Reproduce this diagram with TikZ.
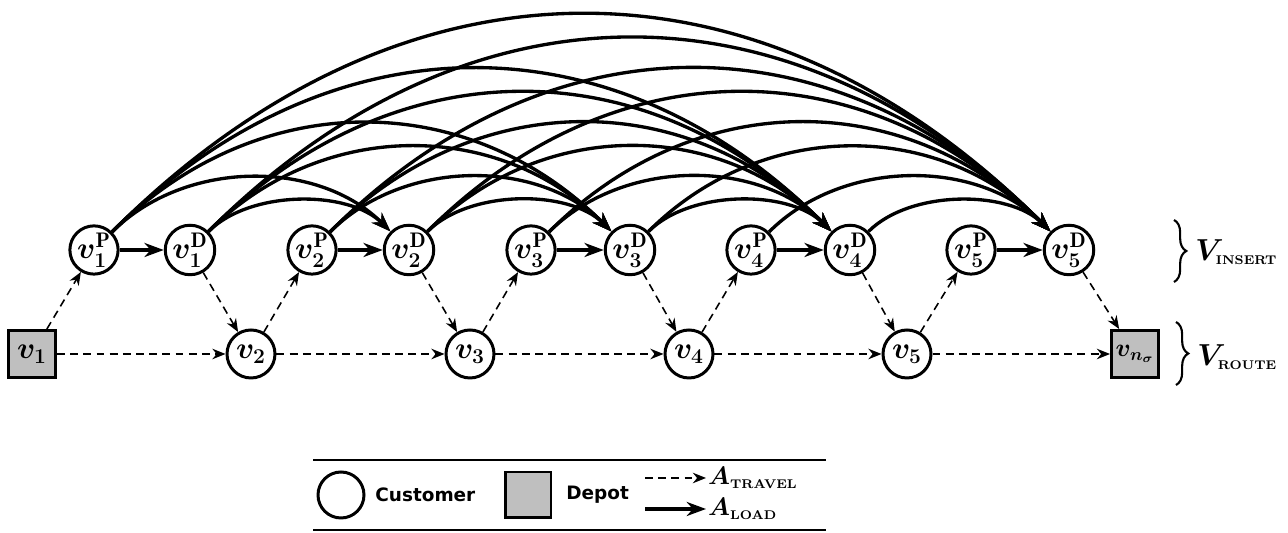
\documentclass[tikz,border=0pt]{standalone}
\usepackage{fontspec}
\usepackage{amsmath}
\newfontfamily\legendfont{DejaVu Sans}
\usetikzlibrary{arrows.meta,decorations.pathreplacing}

\tikzset{
    customer/.style={circle, draw, line width=1.7pt, minimum size=0.96cm, inner sep=0pt, font=\boldmath},
    depot/.style={rectangle, draw, line width=1.7pt, fill=gray!50, minimum size=0.94cm, inner sep=0pt, font=\boldmath},
    travel/.style={-{Stealth[length=7.5pt,width=6pt]}, line width=0.9pt, dash pattern=on 4.5pt off 3pt},
    loadarc/.style={-{Stealth[length=11pt,width=8pt]}, line width=1.9pt},
    legendtxt/.style={right, inner sep=0pt, font=\legendfont\bfseries\fontsize{10.5}{12}\selectfont},
    setlabel/.style={right, inner sep=0pt, font=\boldmath},
}
\newcommand{\setname}[1]{\text{\fontsize{7.2}{8}\selectfont\bfseries #1}}

\begin{document}
\begin{tikzpicture}[x=0.02cm, y=0.02cm]
        \useasboundingbox (0,0) rectangle (1288,533);

        % Route nodes (depots and customers)
        \node[depot] (v1) at (32,179) {\LARGE$v_1$};
        \node[customer] (v2) at (251,179) {\LARGE$v_2$};
        \node[customer] (v3) at (470,179) {\LARGE$v_3$};
        \node[customer] (v4) at (689,179) {\LARGE$v_4$};
        \node[customer] (v5) at (907,179) {\LARGE$v_5$};
        \node[depot] (vn) at (1135,179) {\Large$v_{n_\sigma}$};

        % Insert nodes - pickup and delivery of every request
        \node[customer] (p1) at (94,283) {\LARGE$v_1^{\mathrm{P}}$};
        \node[customer] (d1) at (190,283) {\LARGE$v_1^{\mathrm{D}}$};
        \node[customer] (p2) at (312,283) {\LARGE$v_2^{\mathrm{P}}$};
        \node[customer] (d2) at (409,283) {\LARGE$v_2^{\mathrm{D}}$};
        \node[customer] (p3) at (531,283) {\LARGE$v_3^{\mathrm{P}}$};
        \node[customer] (d3) at (630,283) {\LARGE$v_3^{\mathrm{D}}$};
        \node[customer] (p4) at (751,283) {\LARGE$v_4^{\mathrm{P}}$};
        \node[customer] (d4) at (850,283) {\LARGE$v_4^{\mathrm{D}}$};
        \node[customer] (p5) at (971,283) {\LARGE$v_5^{\mathrm{P}}$};
        \node[customer] (d5) at (1069,283) {\LARGE$v_5^{\mathrm{D}}$};

        % Travel arcs (dashed) and load arcs P -> D
        \foreach \i/\j in {1/2,2/3,3/4,4/5,5/n}{
            \draw[travel] (v\i) -- (p\i);
            \draw[travel] (v\i) -- (v\j);
            \draw[travel] (d\i) -- (v\j);
            \draw[loadarc] (p\i) -- (d\i);
        }

        % Load arcs to every later delivery, height about d/4
        \foreach \i in {1,...,4}{
            \pgfmathtruncatemacro{\k}{\i+1}
            \foreach \j in {\k,...,5}{
                \foreach \t/\o in {p/97,d/0}{
                    \pgfmathsetmacro{\loose}{(0.25*((\j-\i)*219.5+\o)-17)/(0.2076*((\j-\i)*219.5+\o))}
                    \draw[loadarc] (\t\i) to[out=45, in=135, looseness=\loose] (d\j);
                }
            }
        }

        % Braces for the two node sets
        \draw[line width=1.2pt, decorate, decoration={brace, amplitude=7pt}] (1174,313) -- (1174,251);
        \node[setlabel] (vinsert) at (1195,281) {\LARGE$V_{\setname{INSERT}}$};
        \draw[line width=1.2pt, decorate, decoration={brace, amplitude=7pt}] (1176,211) -- (1176,148);
        \node[setlabel] (vroute) at (1197,176) {\LARGE$V_{\setname{ROUTE}}$};

        % Legend
        \draw[line width=0.8pt] (313,73) -- (826,73);
        \draw[line width=0.8pt] (313,3) -- (826,3);
        \node[customer, minimum size=0.92cm] (legcust) at (341,38) {};
        \node[legendtxt] (custtxt) at (375,38) {Customer};
        \node[depot, minimum size=0.92cm] (legdepot) at (528,38) {};
        \node[legendtxt] (depottxt) at (566,38) {Depot};
        \node[setlabel, inner sep=1pt] (atravel) at (706,55) {\Large$A_{\setname{TRAVEL}}$};
        \node[setlabel, inner sep=1pt] (aload) at (706,24) {\Large$A_{\setname{LOAD}}$};
        \coordinate (trs) at (645,55);
        \coordinate (lds) at (645,24);
        \draw[travel] (trs) -- (atravel.west);
        \draw[loadarc] (lds) -- (aload.west);
\end{tikzpicture}
\end{document}
